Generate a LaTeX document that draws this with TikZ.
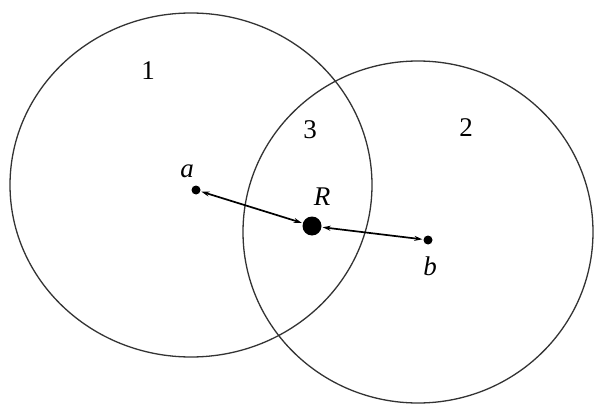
\documentclass[tikz,border=0pt]{standalone}
\usepackage{fontspec}
\setmainfont{Liberation Serif}
\usetikzlibrary{arrows.meta}
\begin{document}
\begin{tikzpicture}[x=1pt,y=-1pt,
  ring/.style={draw=black!80, line width=1.3pt},
  lbl/.style={font=\fontsize{27}{27}\selectfont, inner sep=0pt},
  dot/.style={circle, fill=black, inner sep=0pt},
  link/.style={line width=1.7pt, {Stealth[length=8pt,width=5pt]}-{Stealth[length=8pt,width=5pt]}, shorten <=1pt, shorten >=1pt}]
\useasboundingbox (0,0) rectangle (595,404);
\fill[white] (0,0) rectangle (595,404);
\draw[ring] (191,185) ellipse [x radius=181, y radius=172];
\draw[ring] (418,232) ellipse [x radius=175, y radius=171];
\node[dot, minimum size=9pt] (a) at (196,190) {};
\node[dot, minimum size=19pt] (R) at (312,226) {};
\node[dot, minimum size=9pt] (b) at (428,240) {};
\draw[link] (a) -- (R);
\draw[link] (R) -- (b);
\node[lbl] (l1) at (148,71) {1};
\node[lbl] (l3) at (310,130) {3};
\node[lbl] (l2) at (466,128) {2};
\node[lbl] (la) at (187,171) {\itshape a};
\node[lbl] (lR) at (322,197) {\itshape R};
\node[lbl] (lb) at (430,266) {\itshape b};
\end{tikzpicture}
\end{document}
